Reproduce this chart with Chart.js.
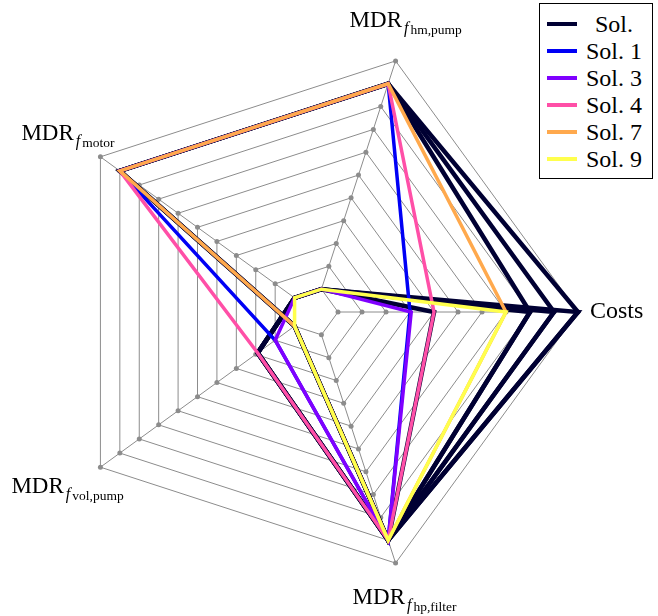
<!DOCTYPE html>
<html>
<head>
<meta charset="utf-8">
<script src="https://cdn.jsdelivr.net/npm/chart.js@4.4.0/dist/chart.umd.min.js"></script>
<style>
  html, body { margin: 0; padding: 0; background: #fff; }
  #wrap { position: relative; width: 658px; height: 616px; }
  #legend {
    position: absolute; left: 539px; top: 3px; width: 114px; height: 176px;
    box-sizing: border-box; border: 1px solid #000; background: #fff;
    font-family: 'Liberation Serif', 'Times New Roman', serif; font-size: 24px; color: #000;
  }
  .row { position: absolute; left: 0; width: 112px; height: 27px; }
  .swatch { position: absolute; left: 7px; top: 11px; width: 30px; height: 4px; }
  .txt { position: absolute; left: 42px; width: 64px; top: 0; line-height: 27px; text-align: center; white-space: nowrap; }
</style>
</head>
<body>
<div id="wrap">
  <canvas id="radarChart" width="658" height="616"></canvas>
  <div id="legend"></div>
</div>
<script>
// axes, clockwise from the right
const axisLabels = ['Costs', 'MDR f hp,filter', 'MDR f vol,pump', 'MDR f motor', 'MDR f hm,pump'];
const axisMain = ['Costs', 'MDR', 'MDR', 'MDR', 'MDR'];
const axisSub = ['', 'hp,filter', 'vol,pump', 'motor', 'hm,pump'];
const levels = [1, 2, 3, 4, 5, 6, 7, 8, 9, 10, 11];

// other solutions (all drawn as "Sol.")
const solOther = [
  [11, 10, 1, 10, 10],
  [10, 10, 1, 10, 10],
  [9, 10, 1, 10, 10],
  [11, 10, 2.9, 1, 1],
  [10, 10, 2.9, 1, 1],
  [9, 10, 2.9, 1, 1],
  [5, 10, 2.9, 1, 1]
];
const sol1 = [4, 10, 2, 10, 10];
const sol3 = [4.05, 10, 2, 1, 1];
const sol4 = [5, 10, 2.9, 10, 10];
const sol7 = [8, 10, 1, 10, 10];
const sol9 = [8, 10, 1, 1, 1];

const legendNames = ['Sol.', 'Sol. 1', 'Sol. 3', 'Sol. 4', 'Sol. 7', 'Sol. 9'];
const colors = ['#000033', '#0000f5', '#7f00ff', '#ff4fa7', '#ffa94d', '#ffff4d'];

const gridGray = 'rgb(140,140,140)';

const datasets = [];
solOther.forEach((d, i) => {
  datasets.push({ label: 'Sol.', data: d, borderColor: colors[0], borderWidth: 4.5, order: 10 });
});
[sol1, sol3, sol4, sol7, sol9].forEach((d, i) => {
  datasets.push({ label: legendNames[i + 1], data: d, borderColor: colors[i + 1], borderWidth: 3.5, order: 5 - i });
});
datasets.forEach(ds => { ds.fill = false; ds.pointRadius = 0; ds.tension = 0; ds.borderJoinStyle = 'miter'; });

const gridExtras = {
  id: 'gridExtras',
  beforeDatasetsDraw(chart) {
    const scale = chart.scales.r;
    const ctx = chart.ctx;
    ctx.save();
    ctx.strokeStyle = gridGray;
    ctx.fillStyle = gridGray;
    ctx.lineWidth = 1;
    for (let i = 0; i < axisLabels.length; i++) {
      const a = scale.getPointPositionForValue(i, levels[0]);
      const b = scale.getPointPositionForValue(i, levels[levels.length - 1]);
      ctx.beginPath();
      ctx.moveTo(a.x, a.y);
      ctx.lineTo(b.x, b.y);
      ctx.stroke();
      levels.forEach(v => {
        const p = scale.getPointPositionForValue(i, v);
        ctx.beginPath();
        ctx.arc(p.x, p.y, 2.5, 0, Math.PI * 2);
        ctx.fill();
      });
    }
    ctx.restore();
  },
  afterDraw(chart) {
    const scale = chart.scales.r;
    const ctx = chart.ctx;
    const offsets = [[12, 0], [-43, 41], [-89, 26], [-79, -17], [-46, -34]];
    ctx.save();
    ctx.fillStyle = '#000';
    ctx.textBaseline = 'alphabetic';
    for (let i = 0; i < axisLabels.length; i++) {
      const p = scale.getPointPositionForValue(i, levels[levels.length - 1]);
      let x = p.x + offsets[i][0];
      const y = p.y + offsets[i][1];
      if (i === 0) {
        ctx.font = '24px "Liberation Serif"';
        ctx.textBaseline = 'middle';
        ctx.fillText(axisMain[i], x, y);
        ctx.textBaseline = 'alphabetic';
        continue;
      }
      ctx.font = '23px "Liberation Serif"';
      ctx.fillText(axisMain[i], x, y);
      x += ctx.measureText(axisMain[i]).width + 2;
      ctx.font = 'italic 16px "Liberation Serif"';
      ctx.fillText('f', x, y + 6);
      x += ctx.measureText('f').width + 2;
      ctx.font = '13.5px "Liberation Serif"';
      ctx.fillText(axisSub[i], x, y + 7);
    }
    ctx.restore();
  }
};

new Chart(document.getElementById('radarChart'), {
  type: 'radar',
  data: { labels: axisLabels, datasets: datasets },
  options: {
    responsive: false,
    animation: false,
    devicePixelRatio: 1,
    layout: { padding: { left: 50, top: 48, right: 80, bottom: 40 } },
    plugins: { legend: { display: false }, tooltip: { enabled: false } },
    scales: {
      r: {
        min: 0,
        max: 11,
        startAngle: 90,
        ticks: { display: false, stepSize: 1 },
        grid: { color: gridGray, lineWidth: 1, circular: false },
        angleLines: { display: false },
        pointLabels: { display: false }
      }
    }
  },
  plugins: [gridExtras]
});

// legend box
const legendEl = document.getElementById('legend');
legendNames.forEach((name, i) => {
  const row = document.createElement('div');
  row.className = 'row';
  row.style.top = (7 + 27 * i) + 'px';
  row.innerHTML = '<div class="swatch" style="background:' + colors[i] + '"></div><div class="txt">' + name + '</div>';
  legendEl.appendChild(row);
});
</script>
</body>
</html>
